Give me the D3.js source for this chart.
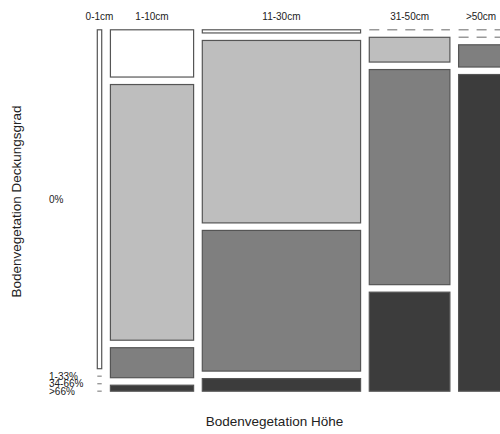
<!DOCTYPE html>
<html>
  <head>
    <meta charset="utf-8" />
    <style>
      body { margin: 0; background: #fff; }
      text { font-family: "Liberation Sans", Arial, sans-serif; fill: #222; }
    </style>
  </head>
  <body>

<svg id="graph"></svg>

<script src="https://d3js.org/d3.v7.min.js"></script>
<script>
  const WIDTH = 500;
  const HEIGHT = 434;

  // Bodenvegetation Höhe (columns) x Deckungsgrad (rows)
  const hoehe = ['0-1cm', '1-10cm', '11-30cm', '31-50cm', '>50cm'];
  const deckung = ['0%', '1-33%', '34-66%', '>66%'];
  const d0 = [2.4, 6.3, 0.8, 0, 0];
  const d1_33 = [0, 34.1, 46.3, 3.2, 0];
  const d34_66 = [0, 4.0, 35.7, 27.8, 1.6];
  const d66 = [0, 0.8, 3.2, 12.8, 22.8];
  const FILLS = ['#ffffff', '#bebebe', '#7f7f7f', '#3c3c3c'];

  const rows = [d0, d1_33, d34_66, d66];
  const table = hoehe.map((h, i) => ({ h: h, cells: rows.map(r => r[i]) }));
  table.forEach(c => c.total = d3.sum(c.cells));
  const grand = d3.sum(table, c => c.total);

  const LEFT = 97.3, RIGHT = 503.5, TOP = 29.8, BOTTOM = 391.2;
  const XGAP = 8.7, YGAP = 7.5;

  const xScale = d3.scaleLinear()
    .domain([0, grand])
    .range([0, RIGHT - LEFT - XGAP * (hoehe.length - 1)]);

  const svg = d3.select('#graph')
    .attr('width', WIDTH)
    .attr('height', HEIGHT);

  let x = LEFT;
  table.forEach((col, ci) => {
    const w = xScale(col.total);
    const yScale = d3.scaleLinear()
      .domain([0, col.total])
      .range([0, BOTTOM - TOP - YGAP * (deckung.length - 1)]);
    let y = TOP;
    col.ys = [];
    col.cells.forEach((v, ri) => {
      const hgt = yScale(v);
      col.ys.push(y + hgt / 2);
      if (v > 0) {
        svg.append('rect')
          .attr('x', x).attr('y', y)
          .attr('width', w).attr('height', hgt)
          .attr('fill', FILLS[ri])
          .attr('stroke', '#555')
          .attr('stroke-width', 1.2);
      } else {
        // empty cell -> dashed line
        svg.append('line')
          .attr('x1', x).attr('x2', x + w)
          .attr('y1', y).attr('y2', y)
          .attr('stroke', '#999')
          .attr('stroke-width', 1.4)
          .attr('stroke-dasharray', '10,8');
      }
      y += hgt + YGAP;
    });

    svg.append('text')
      .attr('x', x + w / 2)
      .attr('y', 20)
      .attr('text-anchor', 'middle')
      .attr('font-size', 10)
      .text(col.h);

    x += w + XGAP;
  });

  // row labels sit at the cells of the first column
  deckung.forEach((d, ri) => {
    svg.append('text')
      .attr('x', 49)
      .attr('y', table[0].ys[ri])
      .attr('dy', '0.35em')
      .attr('font-size', 10)
      .text(d);
  });

  svg.append('text')
    .attr('x', 274.5)
    .attr('y', 426)
    .attr('text-anchor', 'middle')
    .attr('font-size', 13.5)
    .text('Bodenvegetation Höhe');

  svg.append('text')
    .attr('transform', 'translate(20.5,201.5) rotate(-90)')
    .attr('text-anchor', 'middle')
    .attr('font-size', 13.5)
    .text('Bodenvegetation Deckungsgrad');
</script>
  </body>
</html>
